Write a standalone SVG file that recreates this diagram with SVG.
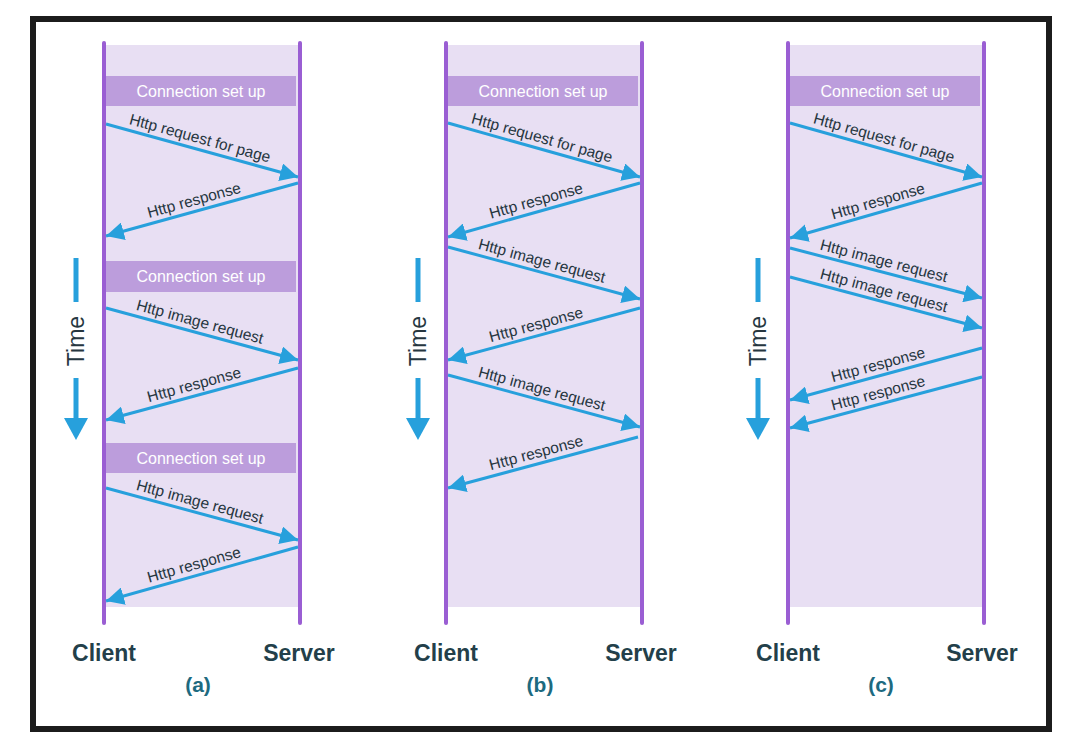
<svg xmlns="http://www.w3.org/2000/svg" width="1072" height="750" viewBox="0 0 1072 750">
<defs>
<marker id="ah" markerUnits="userSpaceOnUse" markerWidth="19" markerHeight="18" refX="18" refY="9" orient="auto">
<path d="M0,0 L18,9 L0,18 Z" fill="#27a0dc"/>
</marker>
<style>
.bg{fill:#e8dff3}
.life{stroke:#9a5ed3;stroke-width:4;stroke-linecap:round;fill:none}
.setup{fill:#bc9ddc}
.setupt{font-family:"Liberation Sans",Arial,sans-serif;font-size:16px;fill:#ffffff;text-anchor:middle}
.msg{stroke:#27a0dc;stroke-width:3;fill:none;marker-end:url(#ah)}
.lbl{font-family:"Liberation Sans",Arial,sans-serif;font-size:15.5px;fill:#26363f;text-anchor:middle}
.ent{font-family:"Liberation Sans",Arial,sans-serif;font-size:23px;font-weight:bold;fill:#233f4a;text-anchor:middle}
.cap{font-family:"Liberation Sans",Arial,sans-serif;font-size:21px;font-weight:bold;fill:#1d6a80;text-anchor:middle}
.time{font-family:"Liberation Sans",Arial,sans-serif;font-size:23px;fill:#26363f;text-anchor:middle}
.tl{stroke:#27a0dc;stroke-width:5;fill:none}
</style>
</defs>
<rect x="0" y="0" width="1072" height="750" fill="#ffffff"/>
<rect id="frame" x="33" y="19" width="1016" height="710" fill="#ffffff" stroke="#1c1c1c" stroke-width="6"/>

<!-- Panel a -->
<g id="panel-a">
<rect class="bg" x="104" y="45" width="196" height="562"/>
<line class="life" x1="104" y1="43" x2="104" y2="623"/>
<line class="life" x1="300" y1="43" x2="300" y2="623"/>
<g id="a-setup1"><rect class="setup" x="106" y="76" width="190" height="30"/><text class="setupt" x="201" y="97">Connection set up</text></g>
<g id="a-setup2"><rect class="setup" x="106" y="261" width="190" height="31"/><text class="setupt" x="201" y="282">Connection set up</text></g>
<g id="a-setup3"><rect class="setup" x="106" y="443" width="190" height="30"/><text class="setupt" x="201" y="464">Connection set up</text></g>
<g id="a-time">
<line class="tl" x1="76" y1="258" x2="76" y2="302"/>
<text class="time" x="84" y="341" transform="rotate(-90 84 341)">Time</text>
<line class="tl" x1="76" y1="378" x2="76" y2="420"/>
<path d="M64,418 L88,418 L76,440 Z" fill="#27a0dc"/>
</g>
<text class="ent" x="104" y="661">Client</text>
<text class="ent" x="299" y="661">Server</text>
<text class="cap" x="198" y="692">(a)</text>
</g>

<!-- Panel b -->
<g id="panel-b">
<rect class="bg" x="446" y="45" width="195" height="562"/>
<line class="life" x1="446" y1="43" x2="446" y2="623"/>
<line class="life" x1="642" y1="43" x2="642" y2="623"/>
<g id="b-setup1"><rect class="setup" x="448" y="76" width="190" height="30"/><text class="setupt" x="543" y="97">Connection set up</text></g>
<g id="b-time">
<line class="tl" x1="418" y1="258" x2="418" y2="302"/>
<text class="time" x="426" y="341" transform="rotate(-90 426 341)">Time</text>
<line class="tl" x1="418" y1="378" x2="418" y2="420"/>
<path d="M406,418 L430,418 L418,440 Z" fill="#27a0dc"/>
</g>
<text class="ent" x="446" y="661">Client</text>
<text class="ent" x="641" y="661">Server</text>
<text class="cap" x="540" y="692">(b)</text>
</g>

<!-- Panel c -->
<g id="panel-c">
<rect class="bg" x="788" y="45" width="196" height="562"/>
<line class="life" x1="788" y1="43" x2="788" y2="623"/>
<line class="life" x1="984" y1="43" x2="984" y2="623"/>
<g id="c-setup1"><rect class="setup" x="790" y="76" width="190" height="30"/><text class="setupt" x="885" y="97">Connection set up</text></g>
<g id="c-time">
<line class="tl" x1="758" y1="258" x2="758" y2="302"/>
<text class="time" x="766" y="341" transform="rotate(-90 766 341)">Time</text>
<line class="tl" x1="758" y1="378" x2="758" y2="420"/>
<path d="M746,418 L770,418 L758,440 Z" fill="#27a0dc"/>
</g>
<text class="ent" x="788" y="661">Client</text>
<text class="ent" x="982" y="661">Server</text>
<text class="cap" x="881" y="692">(c)</text>
</g>

<g id="connectors">
<line class="msg" x1="106" y1="124" x2="298" y2="177"/>
<line class="msg" x1="298" y1="183" x2="106" y2="236"/>
<line class="msg" x1="106" y1="308" x2="298" y2="360"/>
<line class="msg" x1="298" y1="368" x2="106" y2="420"/>
<line class="msg" x1="106" y1="488" x2="298" y2="540"/>
<line class="msg" x1="298" y1="547" x2="106" y2="601"/>

<line class="msg" x1="448" y1="123" x2="640" y2="177"/>
<line class="msg" x1="640" y1="183" x2="448" y2="237"/>
<line class="msg" x1="448" y1="247" x2="640" y2="299"/>
<line class="msg" x1="640" y1="308" x2="448" y2="360"/>
<line class="msg" x1="448" y1="375" x2="640" y2="427"/>
<line class="msg" x1="638" y1="437" x2="448" y2="488"/>

<line class="msg" x1="790" y1="123" x2="982" y2="177"/>
<line class="msg" x1="982" y1="183" x2="790" y2="238"/>
<line class="msg" x1="790" y1="248" x2="982" y2="298"/>
<line class="msg" x1="790" y1="277" x2="982" y2="328"/>
<line class="msg" x1="982" y1="348" x2="790" y2="400"/>
<line class="msg" x1="982" y1="377" x2="790" y2="428"/>
</g>

<g id="labels">
<text class="lbl" transform="translate(197 149) rotate(15.4)" y="-6">Http request for page</text>
<text class="lbl" transform="translate(197 211) rotate(-15.4)" y="-6">Http response</text>
<text class="lbl" transform="translate(197 332.6) rotate(15.2)" y="-6">Http image request</text>
<text class="lbl" transform="translate(197 395.4) rotate(-15.2)" y="-6">Http response</text>
<text class="lbl" transform="translate(197 512.6) rotate(15.2)" y="-6">Http image request</text>
<text class="lbl" transform="translate(197 575.4) rotate(-15.7)" y="-6">Http response</text>

<text class="lbl" transform="translate(539 148.6) rotate(15.7)" y="-6">Http request for page</text>
<text class="lbl" transform="translate(539 211.4) rotate(-15.7)" y="-6">Http response</text>
<text class="lbl" transform="translate(539 271.6) rotate(15.2)" y="-6">Http image request</text>
<text class="lbl" transform="translate(539 335.4) rotate(-15.2)" y="-6">Http response</text>
<text class="lbl" transform="translate(539 399.6) rotate(15.2)" y="-6">Http image request</text>
<text class="lbl" transform="translate(539 463.6) rotate(-15.0)" y="-6">Http response</text>

<text class="lbl" transform="translate(881 148.6) rotate(15.7)" y="-6">Http request for page</text>
<text class="lbl" transform="translate(881 211.9) rotate(-16.0)" y="-6">Http response</text>
<text class="lbl" transform="translate(881 271.7) rotate(14.6)" y="-6">Http image request</text>
<text class="lbl" transform="translate(881 301.2) rotate(14.9)" y="-6">Http image request</text>
<text class="lbl" transform="translate(881 375.4) rotate(-15.2)" y="-6">Http response</text>
<text class="lbl" transform="translate(881 403.8) rotate(-14.9)" y="-6">Http response</text>
</g>
</svg>
